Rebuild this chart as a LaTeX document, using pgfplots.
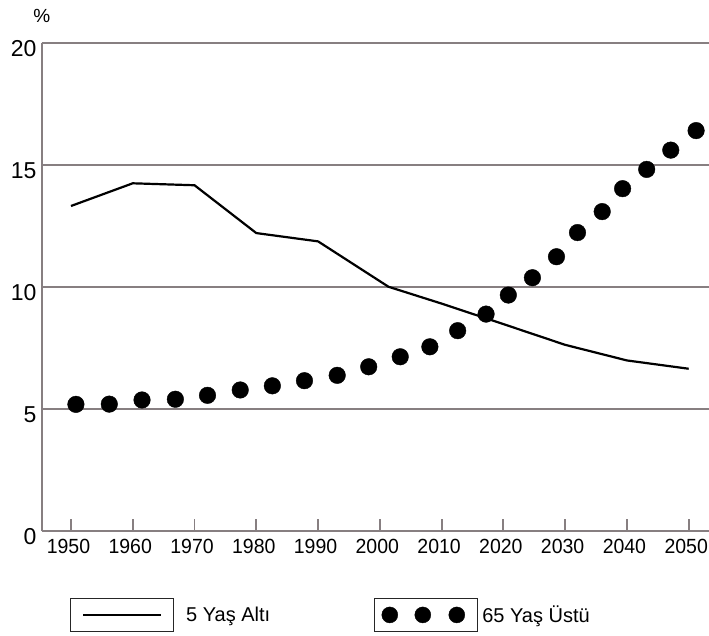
\documentclass[border=0pt]{standalone}
\usepackage{fontspec}
\setmainfont{Liberation Sans}
\newfontfamily\narrowfont[FakeStretch=0.95]{Liberation Sans}
\usepackage{pgfplots}
\pgfplotsset{compat=1.18}
\definecolor{gridgray}{RGB}{135,127,129}
\begin{document}
\begin{tikzpicture}
\path[use as bounding box] (0pt,0pt) rectangle (709pt,635pt);
\begin{axis}[
  at={(41.7pt,104pt)}, anchor=south west,
  scale only axis, width=667.3pt, height=488pt,
  xmin=1945.26, xmax=2053.29, ymin=0, ymax=20,
  axis x line*=bottom, axis y line*=left,
  axis line style={gridgray, line width=2pt},
  xtick={1950,1960,...,2050}, ytick={0,5,10,15,20},
  ymajorgrids, grid style={gridgray, line width=1.8pt},
  tick align=inside, major tick length=12pt,
  xtick style={gridgray, line width=1.8pt},
  ytick style={draw=none},
  /pgf/number format/assume math mode=true,
  /pgf/number format/1000 sep={},
  xticklabel style={font=\narrowfont\fontsize{20.5}{20.5}\selectfont, anchor=north, inner sep=0pt, yshift=-8pt, xshift=-2.5pt},
  yticklabel style={font=\fontsize{23}{23}\selectfont, anchor=east, inner sep=0pt, xshift=-5pt, yshift=-6pt},
  clip=false,
  legend columns=2,
  legend style={draw=none, fill=none, inner sep=0pt, at={(axis description cs:0.0424,-0.1367)}, anchor=north west,
    nodes={inner sep=0pt, font=\fontsize{20}{20}\selectfont},
    /tikz/column 1/.style={column sep=12pt},
    /tikz/column 2/.style={column sep=104pt},
    /tikz/column 3/.style={column sep=4pt}},
]
\addplot[black, line width=2.2pt,
  legend image code/.code={
    \draw[black!85, line width=1pt] (0pt,-16.5pt) rectangle (103pt,16.5pt);
    \draw[black, line width=2.4pt] (12.5pt,0pt) -- (90.5pt,0pt);
  }] coordinates {
(1950,13.32) (1960,14.25) (1970,14.17) (1980,12.21) (1990,11.87) (2001.4,10.01)
(2010,9.32) (2020,8.48) (2030,7.63) (2040,6.99) (2050,6.65)
};
\addlegendentry{5 Yaş Altı}
\addplot[black, only marks, mark=*, mark size=8.3pt,
  legend image code/.code={
    \draw[black!85, line width=1pt] (0pt,-16.5pt) rectangle (103pt,16.5pt);
    \draw[black, only marks, mark=*, mark size=8pt] plot coordinates {(15pt,0pt) (48pt,0pt) (82pt,0pt)};
  }] coordinates {
(1950.8,5.19) (1956.2,5.20) (1961.5,5.37) (1966.9,5.40) (1972.1,5.56) (1977.4,5.78)
(1982.6,5.95) (1987.8,6.16) (1993.1,6.38) (1998.2,6.73) (2003.3,7.14) (2008.1,7.55)
(2012.6,8.21) (2017.2,8.89) (2020.8,9.67) (2024.7,10.38) (2028.6,11.24) (2032.0,12.23)
(2036.0,13.09) (2039.3,14.03) (2043.2,14.82) (2047.1,15.61) (2051.2,16.41)
};
\addlegendentry{65 Yaş Üstü}
\node[font=\fontsize{19}{19}\selectfont, inner sep=0pt] at (axis description cs:0,1) [yshift=27pt] {\%};
\end{axis}
\end{tikzpicture}
\end{document}
